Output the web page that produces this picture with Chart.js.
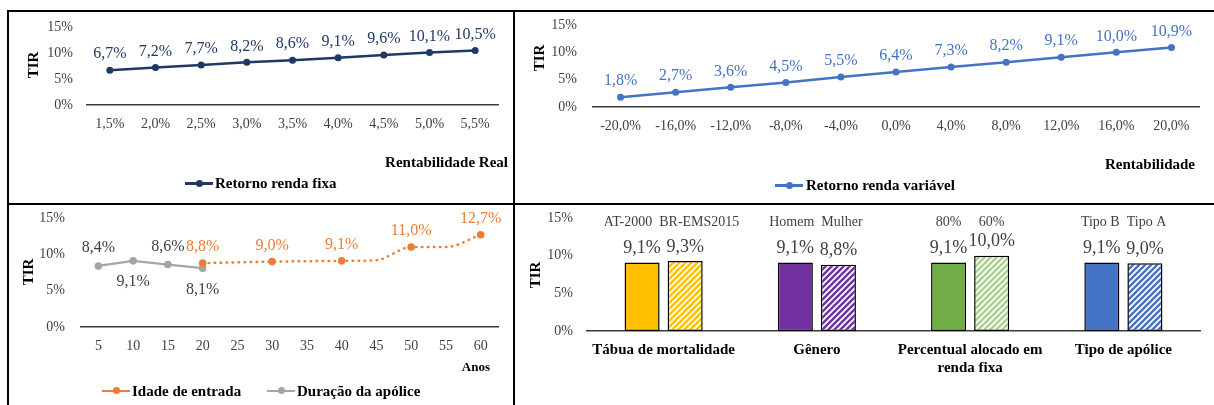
<!DOCTYPE html>
<html><head><meta charset="utf-8">
<script src="https://cdn.jsdelivr.net/npm/chart.js@4.4.0/dist/chart.umd.min.js"></script>
<style>
html,body{margin:0;padding:0;background:#fff;}
body{width:1214px;height:405px;position:relative;overflow:hidden;font-family:"Liberation Serif","Times New Roman",serif;}
.ln{position:absolute;background:#000;}
canvas{position:absolute;}
.t{position:absolute;font-weight:bold;font-size:15px;color:#000;white-space:nowrap;line-height:16px;}
.rot{position:absolute;font-weight:bold;font-size:15px;color:#000;white-space:nowrap;line-height:16px;transform:translate(-50%,-50%) rotate(-90deg);}
.mk{position:absolute;height:2.5px;}
.dot{position:absolute;width:7px;height:7px;border-radius:50%;}
</style>
</head><body>
<div class="ln" style="left:7px;top:10px;width:1207px;height:1.5px;"></div>
<div class="ln" style="left:7px;top:10px;width:1.5px;height:395px;"></div>
<div class="ln" style="left:512.5px;top:10px;width:2px;height:395px;"></div>
<div class="ln" style="left:7px;top:202.5px;width:1207px;height:2px;"></div>

<canvas id="c1" width="505" height="192" style="left:8px;top:11px;"></canvas>
<canvas id="c2" width="700" height="192" style="left:514px;top:11px;"></canvas>
<canvas id="c3" width="505" height="200" style="left:8px;top:205px;"></canvas>
<canvas id="c4" width="699" height="200" style="left:515px;top:205px;"></canvas>

<div class="rot" style="left:33px;top:65px;">TIR</div>
<div class="rot" style="left:539px;top:58px;">TIR</div>
<div class="rot" style="left:28px;top:272px;">TIR</div>
<div class="rot" style="left:535px;top:275px;">TIR</div>

<div class="t" style="right:706px;top:154px;">Rentabilidade Real</div>
<div class="t" style="right:19px;top:156px;">Rentabilidade</div>
<div class="t" style="right:724px;top:359px;font-size:13px;">Anos</div>

<div class="mk" style="left:185px;top:182px;width:28px;background:#1F3864;"></div>
<div class="dot" style="left:195.5px;top:179.7px;background:#1F3864;"></div>
<div class="t" style="left:215px;top:175px;">Retorno renda fixa</div>

<div class="mk" style="left:775px;top:184px;width:28px;background:#4472C4;"></div>
<div class="dot" style="left:785.5px;top:181.7px;background:#4472C4;"></div>
<div class="t" style="left:806px;top:177px;">Retorno renda variável</div>

<div class="mk" style="left:102px;top:389.5px;width:28px;background:#ED7D31;"></div>
<div class="dot" style="left:112.5px;top:387.2px;background:#ED7D31;"></div>
<div class="t" style="left:132px;top:383px;">Idade de entrada</div>
<div class="mk" style="left:267px;top:389.5px;width:28px;background:#A5A5A5;"></div>
<div class="dot" style="left:277.5px;top:387.2px;background:#A5A5A5;"></div>
<div class="t" style="left:297px;top:383px;">Duração da apólice</div>

<script>
// ---------- data ----------
const rentabilidadeReal = ['1,5%','2,0%','2,5%','3,0%','3,5%','4,0%','4,5%','5,0%','5,5%'];
const retornoRendaFixa = [6.7, 7.2, 7.7, 8.2, 8.6, 9.1, 9.6, 10.1, 10.5];

const rentabilidade = ['-20,0%','-16,0%','-12,0%','-8,0%','-4,0%','0,0%','4,0%','8,0%','12,0%','16,0%','20,0%'];
const retornoRendaVariavel = [1.8, 2.7, 3.6, 4.5, 5.5, 6.4, 7.3, 8.2, 9.1, 10.0, 10.9];

const anos = ['5','10','15','20','25','30','35','40','45','50','55','60'];
const duracaoApolice = [8.4, 9.1, 8.6, 8.1, null, null, null, null, null, null, null, null];
const idadeEntrada = [null, null, null, 8.8, 8.9, 9.0, 9.05, 9.1, 9.2, 11.0, 11.0, 12.7];
const idadeMarcados = ['20','30','40','50','60'];

const premissas = ['Tábua de mortalidade', 'Gênero', ['Percentual alocado em', 'renda fixa'], 'Tipo de apólice'];
const cenarioBase = [9.1, 9.1, 9.1, 9.1];
const cenarioAlternativo = [9.3, 8.8, 10.0, 9.0];
const nomesBase = ['AT-2000', 'Homem', '80%', 'Tipo B'];
const nomesAlternativo = ['BR-EMS2015', 'Mulher', '60%', 'Tipo A'];

const yMin = 0, yMax = 15, yStep = 5;

// ---------- helpers ----------
const FONT = '"Liberation Serif", "Times New Roman", serif';
const TICK = '#404040';
const fmt = v => v.toFixed(1).replace('.', ',') + '%';

const labelPlugin = {
  id: 'lbl',
  afterDatasetsDraw(chart) {
    const ctx = chart.ctx;
    chart.data.datasets.forEach((ds, di) => {
      const L = ds.lbl; if (!L) return;
      const meta = chart.getDatasetMeta(di);
      ctx.save();
      ctx.textAlign = 'center'; ctx.textBaseline = 'middle';
      meta.data.forEach((el, i) => {
        const v = ds.data[i];
        if (v == null) return;
        if (L.only && !L.only(i)) return;
        const dy = typeof L.dy === 'function' ? L.dy(i) : L.dy;
        ctx.font = L.font; ctx.fillStyle = L.color;
        ctx.fillText(fmt(v), el.x, el.y + dy);
      });
      ctx.restore();
    });
  }
};

const namePlugin = {
  id: 'names',
  afterDatasetsDraw(chart) {
    const ctx = chart.ctx;
    const m0 = chart.getDatasetMeta(0), m1 = chart.getDatasetMeta(1);
    ctx.save();
    ctx.font = '14px ' + FONT; ctx.fillStyle = '#404040';
    ctx.textAlign = 'center'; ctx.textBaseline = 'middle';
    const y = chart.chartArea.top + 4;
    m0.data.forEach((el0, i) => {
      const el1 = m1.data[i];
      const w0 = ctx.measureText(nomesBase[i]).width, w1 = ctx.measureText(nomesAlternativo[i]).width;
      const need = w0 / 2 + w1 / 2 + 7, dist = el1.x - el0.x;
      const sh = need > dist ? (need - dist) / 2 : 0;
      ctx.fillText(nomesBase[i], el0.x - sh, y);
      ctx.fillText(nomesAlternativo[i], el1.x + sh, y);
    });
    ctx.restore();
  }
};

function yScale(width, pad) {
  return {
    min: yMin, max: yMax,
    ticks: { stepSize: yStep, padding: pad, color: TICK, font: { family: FONT, size: 14 }, callback: v => v + '%' },
    grid: { display: false, drawTicks: false },
    border: { display: false },
    afterFit: s => { s.width = width; s.paddingTop = 0; s.paddingBottom = 0; }
  };
}
function xScale(height, pad, offset, fontOpts) {
  return {
    offset: offset,
    ticks: Object.assign({ padding: pad, color: TICK, maxRotation: 0, autoSkip: false, font: { family: FONT, size: 14 } }, fontOpts || {}),
    grid: { display: false, drawTicks: false },
    border: { display: true, color: '#3a3a3a', width: 1.5 },
    afterFit: s => { s.height = height; s.paddingLeft = 0; s.paddingRight = 0; }
  };
}
function baseOpts(pad, xs, ys) {
  return {
    responsive: false, animation: false, devicePixelRatio: 1,
    layout: { padding: pad, autoPadding: false },
    plugins: { legend: { display: false }, tooltip: { enabled: false } },
    scales: { x: xs, y: ys }
  };
}

// ---------- chart 1 ----------
new Chart(document.getElementById('c1'), {
  type: 'line',
  data: { labels: rentabilidadeReal, datasets: [{
    data: retornoRendaFixa, borderColor: '#1F3864', backgroundColor: '#1F3864',
    borderWidth: 2.5, pointRadius: 3.5, pointBorderWidth: 0, tension: 0,
    lbl: { font: '16px ' + FONT, color: '#1F3864', dy: -16 }
  }]},
  options: baseOpts({ left: 0, right: 15, top: 16, bottom: 0 }, xScale(98, 11, true), yScale(79, 14)),
  plugins: [labelPlugin]
});

// ---------- chart 2 ----------
new Chart(document.getElementById('c2'), {
  type: 'line',
  data: { labels: rentabilidade, datasets: [{
    data: retornoRendaVariavel, borderColor: '#4472C4', backgroundColor: '#4472C4',
    borderWidth: 2.5, pointRadius: 3.5, pointBorderWidth: 0, tension: 0,
    lbl: { font: '16px ' + FONT, color: '#4472C4', dy: -16 }
  }]},
  options: baseOpts({ left: 0, right: 15, top: 14, bottom: 0 }, xScale(96, 11, true), yScale(79, 16)),
  plugins: [labelPlugin]
});

// ---------- chart 3 ----------
const duracaoPos = [-18, 21, -18, 22];
new Chart(document.getElementById('c3'), {
  type: 'line',
  data: { labels: anos, datasets: [
    {
      data: idadeEntrada, borderColor: '#ED7D31', backgroundColor: '#ED7D31',
      borderWidth: 2.5, borderDash: [0.5, 5.5], borderCapStyle: 'round',
      cubicInterpolationMode: 'monotone', spanGaps: true,
      pointRadius: anos.map(a => idadeMarcados.includes(a) ? 3.8 : 0), pointBorderWidth: 0,
      lbl: { font: '16px ' + FONT, color: '#ED7D31', dy: -16, only: i => idadeMarcados.includes(anos[i]) }
    },
    {
      data: duracaoApolice, borderColor: '#A5A5A5', backgroundColor: '#A5A5A5',
      borderWidth: 2.25, tension: 0, pointRadius: 3.8, pointBorderWidth: 0,
      lbl: { font: '16px ' + FONT, color: '#404040', dy: i => duracaoPos[i] }
    }
  ]},
  options: baseOpts({ left: 0, right: 15, top: 13, bottom: 0 }, xScale(78, 11, true), yScale(73, 16)),
  plugins: [labelPlugin]
});

// ---------- chart 4 ----------
const c4 = document.getElementById('c4');
const c4ctx = c4.getContext('2d');
function stripes(fg, bg) {
  const c = document.createElement('canvas'); c.width = 6; c.height = 6;
  const x = c.getContext('2d');
  x.fillStyle = bg; x.fillRect(0, 0, 6, 6);
  x.strokeStyle = fg; x.lineWidth = 2.4;
  x.beginPath();
  x.moveTo(-3, 3); x.lineTo(3, -3);
  x.moveTo(0, 6); x.lineTo(6, 0);
  x.moveTo(3, 9); x.lineTo(9, 3);
  x.stroke();
  return c4ctx.createPattern(c, 'repeat');
}
const solidColors = ['#FFC000', '#7030A0', '#70AD47', '#4472C4'];
const patternFills = [stripes('#FFC000', '#FFFFFF'), stripes('#7030A0', '#FFFFFF'), stripes('#A9D18E', '#FFFFFF'), stripes('#4472C4', '#FFFFFF')];
new Chart(c4, {
  type: 'bar',
  data: { labels: premissas, datasets: [
    {
      data: cenarioBase, backgroundColor: solidColors, borderColor: '#000', borderWidth: 1.5, borderSkipped: false,
      categoryPercentage: 0.562, barPercentage: 0.814,
      lbl: { font: '18px ' + FONT, color: '#404040', dy: -14 }
    },
    {
      data: cenarioAlternativo, backgroundColor: patternFills, borderColor: '#000', borderWidth: 1.5, borderSkipped: false,
      categoryPercentage: 0.562, barPercentage: 0.814,
      lbl: { font: '18px ' + FONT, color: '#404040', dy: -14 }
    }
  ]},
  options: baseOpts({ left: 0, right: 14, top: 13, bottom: 0 },
    xScale(74, 10, true, { color: '#000', font: { family: FONT, size: 15, weight: 'bold' } }),
    yScale(72, 14)),
  plugins: [labelPlugin, namePlugin]
});
</script>
</body></html>
